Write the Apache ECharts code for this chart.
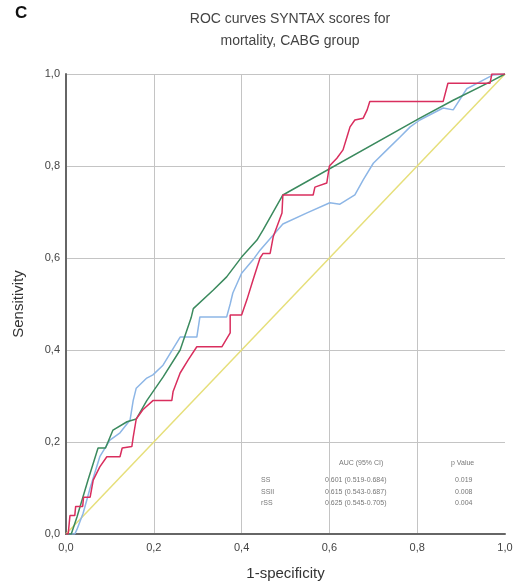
<!DOCTYPE html>
<html>
<head>
<meta charset="utf-8">
<script src="https://cdn.jsdelivr.net/npm/echarts@6/dist/echarts.min.js"></script>
<style>html,body{margin:0;padding:0;background:#fff}#c{width:517px;height:587px}</style>
</head>
<body>
<div id="c"></div>
<script>
// Data
var redCurve = [[0,0],[0.005,0],[0.009,0.04],[0.02,0.04],[0.022,0.06],[0.038,0.06],[0.04,0.08],[0.055,0.08],[0.062,0.117],[0.077,0.146],[0.093,0.168],[0.123,0.168],[0.128,0.187],[0.15,0.19],[0.153,0.21],[0.16,0.25],[0.175,0.27],[0.198,0.29],[0.241,0.29],[0.244,0.31],[0.26,0.35],[0.278,0.378],[0.298,0.407],[0.355,0.407],[0.374,0.437],[0.374,0.476],[0.40,0.476],[0.412,0.509],[0.426,0.552],[0.442,0.60],[0.449,0.61],[0.465,0.61],[0.472,0.646],[0.492,0.698],[0.494,0.737],[0.563,0.737],[0.567,0.754],[0.594,0.763],[0.60,0.80],[0.617,0.817],[0.631,0.835],[0.64,0.863],[0.647,0.885],[0.658,0.90],[0.677,0.904],[0.686,0.922],[0.692,0.94],[0.859,0.94],[0.87,0.98],[0.966,0.98],[0.97,1.0],[1,1]];
var greenCurve = [[0,0],[0.012,0],[0.025,0.037],[0.05,0.117],[0.073,0.187],[0.09,0.187],[0.107,0.226],[0.139,0.244],[0.16,0.25],[0.184,0.29],[0.221,0.341],[0.26,0.40],[0.285,0.47],[0.29,0.49],[0.335,0.53],[0.366,0.559],[0.40,0.602],[0.435,0.639],[0.449,0.661],[0.494,0.737],[0.806,0.904],[0.882,0.943],[0.966,0.983],[1,1]];
var blueCurve = [[0,0],[0.02,0],[0.025,0.01],[0.039,0.045],[0.055,0.10],[0.077,0.168],[0.10,0.204],[0.123,0.22],[0.146,0.248],[0.153,0.29],[0.16,0.317],[0.184,0.339],[0.198,0.346],[0.221,0.367],[0.26,0.428],[0.298,0.428],[0.305,0.472],[0.366,0.472],[0.374,0.50],[0.38,0.524],[0.40,0.567],[0.426,0.596],[0.442,0.617],[0.494,0.674],[0.549,0.698],[0.601,0.72],[0.624,0.717],[0.658,0.737],[0.677,0.77],[0.70,0.806],[0.731,0.835],[0.761,0.863],[0.784,0.885],[0.806,0.90],[0.859,0.926],[0.882,0.922],[0.913,0.968],[0.947,0.985],[0.973,0.998],[1,1]];
var refLine = [[0,0],[1,1]];
var tickValues = [0,0.2,0.4,0.6,0.8,1.0];
var tableHeader = ['AUC (95% CI)','p Value'];
var tableRows = ['SS','SSII','rSS'];
var aucValues = ['0.601 (0.519-0.684)','0.615 (0.543-0.687)','0.625 (0.545-0.705)'];
var pValues = ['0.019','0.008','0.004'];

var chart = echarts.init(document.getElementById('c'));
function fmt(v){ return v.toFixed(1).replace('.', ','); }
var axisCommon = {
  type:'value', min:0, max:1, interval:0.2,
  axisLine:{show:true, lineStyle:{color:'#666', width:2}},
  axisTick:{show:false},
  splitLine:{show:true, lineStyle:{color:'#c4c4c4', width:1}},
  axisLabel:{formatter:fmt, color:'#444', fontSize:11, fontFamily:'Liberation Sans'},
  nameTextStyle:{color:'#333', fontSize:15, fontFamily:'Liberation Sans'}
};
var graphics = [];
var tfont = '7px Liberation Sans';
graphics.push({type:'text', left:339, top:460, style:{text:tableHeader[0], font:tfont, fill:'#777'}});
graphics.push({type:'text', left:451, top:460, style:{text:tableHeader[1], font:tfont, fill:'#777'}});
for (var i=0;i<tableRows.length;i++){
  var ty = 477 + i*11.5;
  graphics.push({type:'text', left:261, top:ty, style:{text:tableRows[i], font:tfont, fill:'#777'}});
  graphics.push({type:'text', left:325, top:ty, style:{text:aucValues[i], font:tfont, fill:'#777'}});
  graphics.push({type:'text', left:455, top:ty, style:{text:pValues[i], font:tfont, fill:'#777'}});
}
chart.setOption({
  backgroundColor:'#fff',
  animation:false,
  title:[
    {text:'C', left:10, top:0, textStyle:{fontSize:17, fontWeight:'bold', color:'#111', fontFamily:'Liberation Sans'}},
    {text:'ROC curves SYNTAX scores for\nmortality, CABG group', left:285, top:3, textAlign:'center',
     textStyle:{fontSize:14, fontWeight:'normal', color:'#444', lineHeight:22, fontFamily:'Liberation Sans'}}
  ],
  grid:{left:66, right:12, top:74, bottom:53, containLabel:false},
  xAxis:Object.assign({}, axisCommon, {name:'1-specificity', nameLocation:'middle', nameGap:32,
    splitLine:{show:true, showMaxLine:false, lineStyle:{color:'#c4c4c4', width:1}}}),
  yAxis:Object.assign({}, axisCommon, {name:'Sensitivity', nameLocation:'middle', nameGap:40, axisLabel:Object.assign({}, axisCommon.axisLabel, {margin:6})}),
  graphic:graphics,
  series:[
    {type:'line', data:refLine, symbol:'none', lineStyle:{color:'#e6df7a', width:1.5}, z:1},
    {type:'line', data:blueCurve, symbol:'none', lineStyle:{color:'#8db6e6', width:1.5}, z:2},
    {type:'line', data:greenCurve, symbol:'none', lineStyle:{color:'#3b8a5e', width:1.5}, z:3},
    {type:'line', data:redCurve, symbol:'none', lineStyle:{color:'#d92e5e', width:1.5}, z:4}
  ]
});
</script>
</body>
</html>
